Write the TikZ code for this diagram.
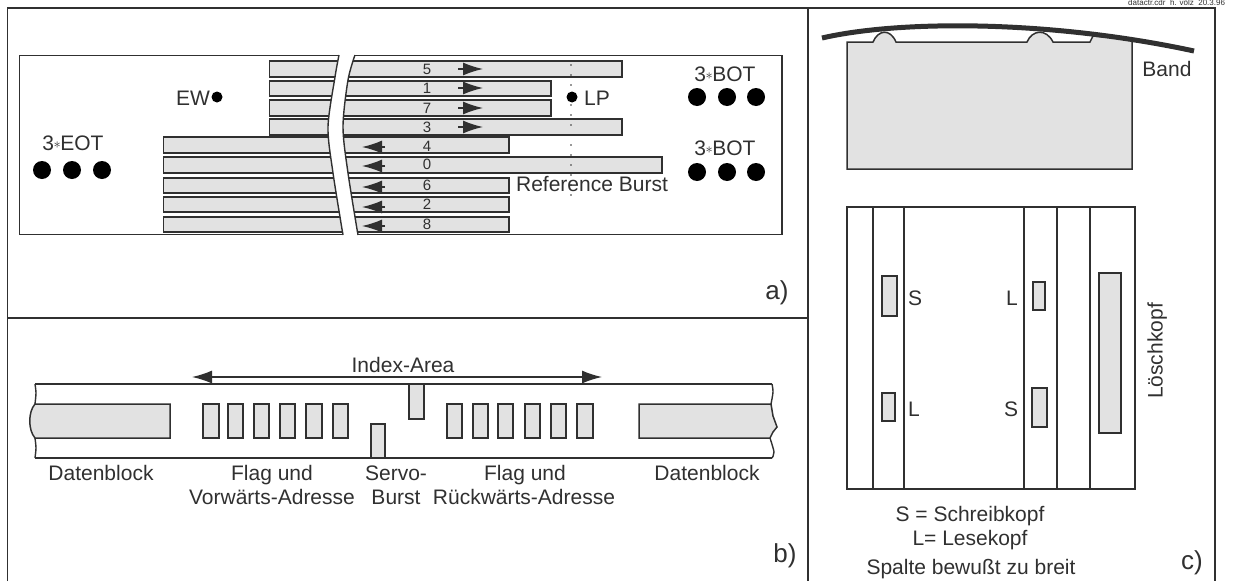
\documentclass[tikz,border=0pt]{standalone}
\usepackage{fontspec}
\setmainfont{Liberation Sans}
\usetikzlibrary{arrows.meta}
\definecolor{kopfgrau}{HTML}{E2E2E2}
\definecolor{strich}{HTML}{303030}
\newcommand{\stern}{{\kern-0.5pt\raisebox{2.5pt}{\fontsize{15}{15}\selectfont$\ast$}\kern-0.5pt}}
\tikzset{
  lbl/.style={inner sep=0pt, text=strich, text height=15pt, text depth=0pt, font=\fontsize{21}{23}\selectfont},
  lblgross/.style={inner sep=0pt, text=strich, font=\fontsize{26}{28}\selectfont},
  lblziffer/.style={inner sep=0pt, text=strich, font=\fontsize{15}{16}\selectfont},
  balken/.style={draw=strich, fill=kopfgrau, line width=1.5pt},
  linie/.style={draw=strich, line width=1.4pt},
  punkt/.style={fill=black, draw=none}
}
\begin{document}
\begin{tikzpicture}[x=1pt, y=-1pt, >={Latex[length=20pt,width=13pt]}]
    \useasboundingbox (0,0) rectangle (1234,581);

    % Rahmen der drei Felder
    \draw[linie] (7.5,581) -- (7.5,8) -- (1215,8) -- (1215,581);
    \draw[linie] (808,8) -- (808,581);
    \draw[linie] (7.5,318) -- (808,318);
    \node[inner sep=0pt, anchor=west, text=strich, font=\fontsize{8}{9}\selectfont] (stempel) at (1128,3) {datactr.cdr\ \ h. völz\ \ 20.3.96};

    % a) Spuren auf dem Band
    \draw[linie] (19.5,55.5) rectangle (782,234.5);
    \foreach \yo/\yu/\xl/\xr in {61/77/269.5/622, 81/96/269.5/551, 100/116/269.5/551, 119/135/269.5/622,
        137/153/163.5/509, 157/173/163.5/662, 178/193/163.5/509, 197/212/163.5/509, 217/232/163.5/509}
       \draw[balken] (\xl,\yo) rectangle (\xr,\yu);

    % Bruchstelle
    \fill[white] plot[smooth] coordinates {(339,53) (335,77) (328,127) (333,173) (343,237)}
       -- plot[smooth] coordinates {(358,237) (348,173) (343,127) (348,80) (355,53)} -- cycle;
    \draw[linie] plot[smooth] coordinates {(339,55) (335,77) (328,127) (333,173) (343,235)};
    \draw[linie] plot[smooth] coordinates {(355,55) (348,80) (343,127) (348,173) (358,235)};

    % Spurnummern und Laufrichtung
    \foreach \y/\n in {69/5, 88/1, 108/7, 127/3, 146/4, 164/0, 185/6, 204/2, 224/8}
       \node[lblziffer] (spur\n) at (427,\y) {\n};
    \foreach \y in {69, 88, 108, 127}
       \draw[->, linie] (458,\y) -- (483,\y);
    \foreach \y in {147, 166, 187, 207, 226}
       \draw[->, linie] (385,\y) -- (362,\y);

    % Marken
    \foreach \y in {65, 75, ..., 200}
       \fill[strich] (571,\y) circle (0.8);
    \foreach \x in {42, 72, 102}
       \fill[punkt] (\x,170) circle (9);
    \foreach \x in {697, 727, 756} {
       \fill[punkt] (\x,97) circle (9);
       \fill[punkt] (\x,172) circle (9);
    }
    \fill[punkt] (217,97) circle (5.5);
    \fill[punkt] (572,97) circle (5.5);
    \node[lbl] (ew) at (193,98) {EW};
    \node[lbl] (lp) at (597,98) {LP};
    \node[lbl] (eot) at (73,143) {3\stern EOT};
    \node[lbl] (bot1) at (725,74) {3\stern BOT};
    \node[lbl] (bot2) at (725,148) {3\stern BOT};
    \node[lbl] (refburst) at (592,184) {Reference Burst};
    \node[lblgross] (feldA) at (777,293) {a)};

    % b) Index-Bereich
    \coordinate (indexL) at (192,377);
    \coordinate (indexR) at (602,377);
    \draw[<->, linie] (indexL) -- (indexR);
    \node[lbl] (index) at (403,365) {Index-Area};
    \draw[linie] (35,384) -- (772,384);
    \draw[linie] (35,458) -- (772,458);
    \draw[linie] plot[smooth] coordinates {(35,384) (36,393) (35,404)};
    \draw[linie] plot[smooth] coordinates {(35,438) (36,448) (35,458)};
    \draw[linie] plot[smooth] coordinates {(772,384) (773,392) (771,404)};
    \draw[linie] plot[smooth] coordinates {(770,438) (774,452) (772,458)};
    \draw[balken] (35,404) -- (170,404) -- (170,438) -- (35,438) .. controls (28,430) and (28,412) .. (35,404) -- cycle;
    \draw[balken] (771,404) -- (639,404) -- (639,438) -- (770,438) -- (773,432) -- (777,427) -- (773,416) -- cycle;
    \foreach \xl/\xr in {203/219, 228/243, 254/269, 280/295, 306/322, 333/348,
        447/462, 473/488, 498/513, 525/540, 551/566, 577/593}
       \draw[balken] (\xl,404) rectangle (\xr,438);
    \draw[balken] (371,424) rectangle (385,458);
    \draw[balken] (409,384) rectangle (424,419);
    \node[lbl] (daten1) at (101,473) {Datenblock};
    \node[lbl] (flag1) at (272,473) {Flag und};
    \node[lbl] (vor) at (272,497) {Vorwärts-Adresse};
    \node[lbl] (servo) at (396,473) {Servo-};
    \node[lbl] (burst) at (396,497) {Burst};
    \node[lbl] (flag2) at (525,473) {Flag und};
    \node[lbl] (rueck) at (524,497) {Rückwärts-Adresse};
    \node[lbl] (daten2) at (707,473) {Datenblock};
    \node[lblgross] (feldB) at (785,556) {b)};

    % c) Kopf am Band
    \draw[balken] (847,169) -- (847,42) -- (873,42) .. controls (878,30) and (890,28) .. (896,42) -- (1027,42)
       .. controls (1032,30) and (1046,28) .. (1053,42) -- (1090,42) -- (1093,36) -- (1132,39) -- (1132,169) -- cycle;
    \draw[strich, line width=5pt] (822,38) .. controls (900,20) and (1050,20) .. (1194,51);
    \node[lbl] (band) at (1167,69) {Band};

    % c) Kopfspiegel
    \draw[linie] (847,207) rectangle (1135,489);
    \foreach \x in {873, 904, 1024, 1057, 1090}
       \draw[linie] (\x,207) -- (\x,489);
    \draw[balken] (882,276) rectangle (897,316);
    \draw[balken] (882,393) rectangle (895,421);
    \draw[balken] (1033,282) rectangle (1045,310);
    \draw[balken] (1032,388) rectangle (1047,427);
    \draw[balken] (1099,273) rectangle (1121,433);
    \node[lbl] (s1) at (915,298) {S};
    \node[lbl] (l1) at (914,409) {L};
    \node[lbl] (l2) at (1012,298) {L};
    \node[lbl] (s2) at (1011,409) {S};
    \node[lbl, rotate=90] (loesch) at (1155,351) {Löschkopf};
    \node[lbl] (schreib) at (970,514) {S = Schreibkopf};
    \node[lbl] (lese) at (970,538) {L= Lesekopf};
    \node[lbl] (spalte) at (971,567) {Spalte bewußt zu breit};
    \node[lblgross] (feldC) at (1192,563) {c)};
\end{tikzpicture}
\end{document}
